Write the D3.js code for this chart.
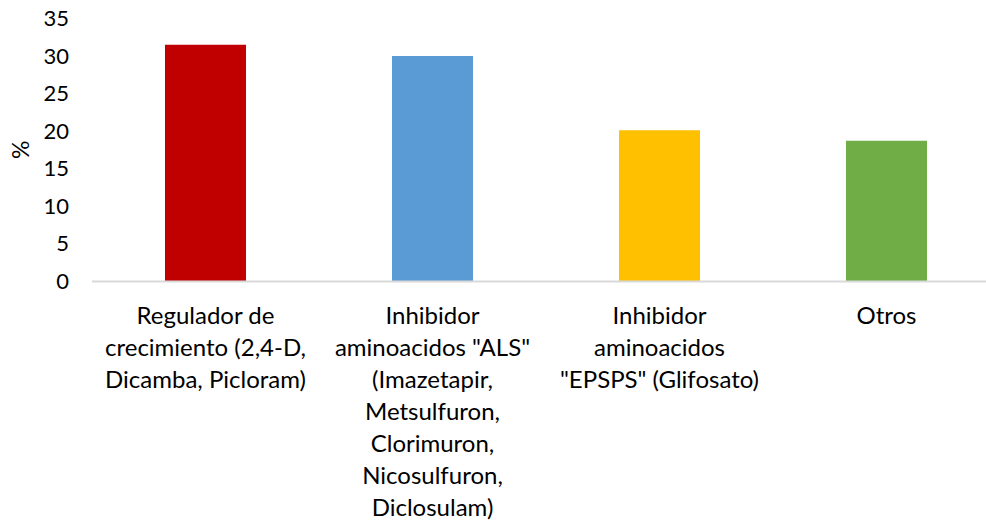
<!DOCTYPE html>
<html>
<head>
<meta charset="utf-8">
<script src="https://cdn.jsdelivr.net/npm/d3@7"></script>
<style>
  body { margin: 0; background: #fff; }
  svg { display: block; font-family: Lato, "Open Sans", sans-serif; }
</style>
</head>
<body>
<div class="chart-container"></div>
<script>
// Category labels, one array of lines per bar
const categories = [
  ['Regulador de', 'crecimiento (2,4-D,', 'Dicamba, Picloram)'],
  ['Inhibidor', 'aminoacidos "ALS"', '(Imazetapir,', 'Metsulfuron,', 'Clorimuron,', 'Nicosulfuron,', 'Diclosulam)'],
  ['Inhibidor', 'aminoacidos', '"EPSPS" (Glifosato)'],
  ['Otros']
];
const values = [31.5, 30.0, 20.1, 18.7];
const colors = ['#C00000', '#5B9BD5', '#FFC000', '#70AD47'];
const yTicks = [0, 5, 10, 15, 20, 25, 30, 35];

const width = 986;
const height = 523;
const margin = {top: 18.5, left: 92, bottom: 242};
const plotRight = 1000; // plot area runs past the right edge of the picture

const svg = d3.select('.chart-container')
  .append('svg')
  .attr('width', width)
  .attr('height', height);

const x = d3.scaleBand()
  .domain(d3.range(values.length))
  .range([margin.left, plotRight])
  .paddingInner(0.643)
  .paddingOuter(0.3215);

const y = d3.scaleLinear()
  .domain([0, 35])
  .range([height - margin.bottom, margin.top]);

// bars
svg.append('g')
  .selectAll('rect')
  .data(values)
  .enter()
  .append('rect')
  .attr('x', (d, i) => x(i))
  .attr('y', d => y(d))
  .attr('width', x.bandwidth())
  .attr('height', d => y(0) - y(d))
  .attr('fill', (d, i) => colors[i]);

// y axis labels (no axis line in the original)
const yAxis = svg.append('g')
  .attr('transform', `translate(${margin.left - 23},0)`)
  .call(d3.axisLeft(y).tickValues(yTicks).tickSize(0).tickPadding(0));
yAxis.select('.domain').remove();
yAxis.selectAll('text')
  .attr('font-family', 'Lato, sans-serif')
  .attr('font-size', 22)
  .attr('fill', '#000');

// baseline
svg.append('line')
  .attr('x1', margin.left)
  .attr('x2', plotRight)
  .attr('y1', y(0) + 0.5)
  .attr('y2', y(0) + 0.5)
  .attr('stroke', '#d9d9d9')
  .attr('stroke-width', 2);

// category labels
const lineHeight = 32;
svg.append('g')
  .selectAll('text')
  .data(categories)
  .enter()
  .append('text')
  .attr('text-anchor', 'middle')
  .attr('font-size', 24)
  .attr('fill', '#000')
  .each(function(lines, i) {
    d3.select(this).selectAll('tspan')
      .data(lines)
      .enter()
      .append('tspan')
      .attr('x', x(i) + x.bandwidth() / 2)
      .attr('y', (d, j) => y(0) + 43 + j * lineHeight)
      .text(d => d);
  });

// y axis title
svg.append('text')
  .attr('transform', `translate(29,${(y(0) + y(35)) / 2}) rotate(-90)`)
  .attr('text-anchor', 'middle')
  .attr('font-size', 23)
  .attr('fill', '#000')
  .text('%');
</script>
</body>
</html>
